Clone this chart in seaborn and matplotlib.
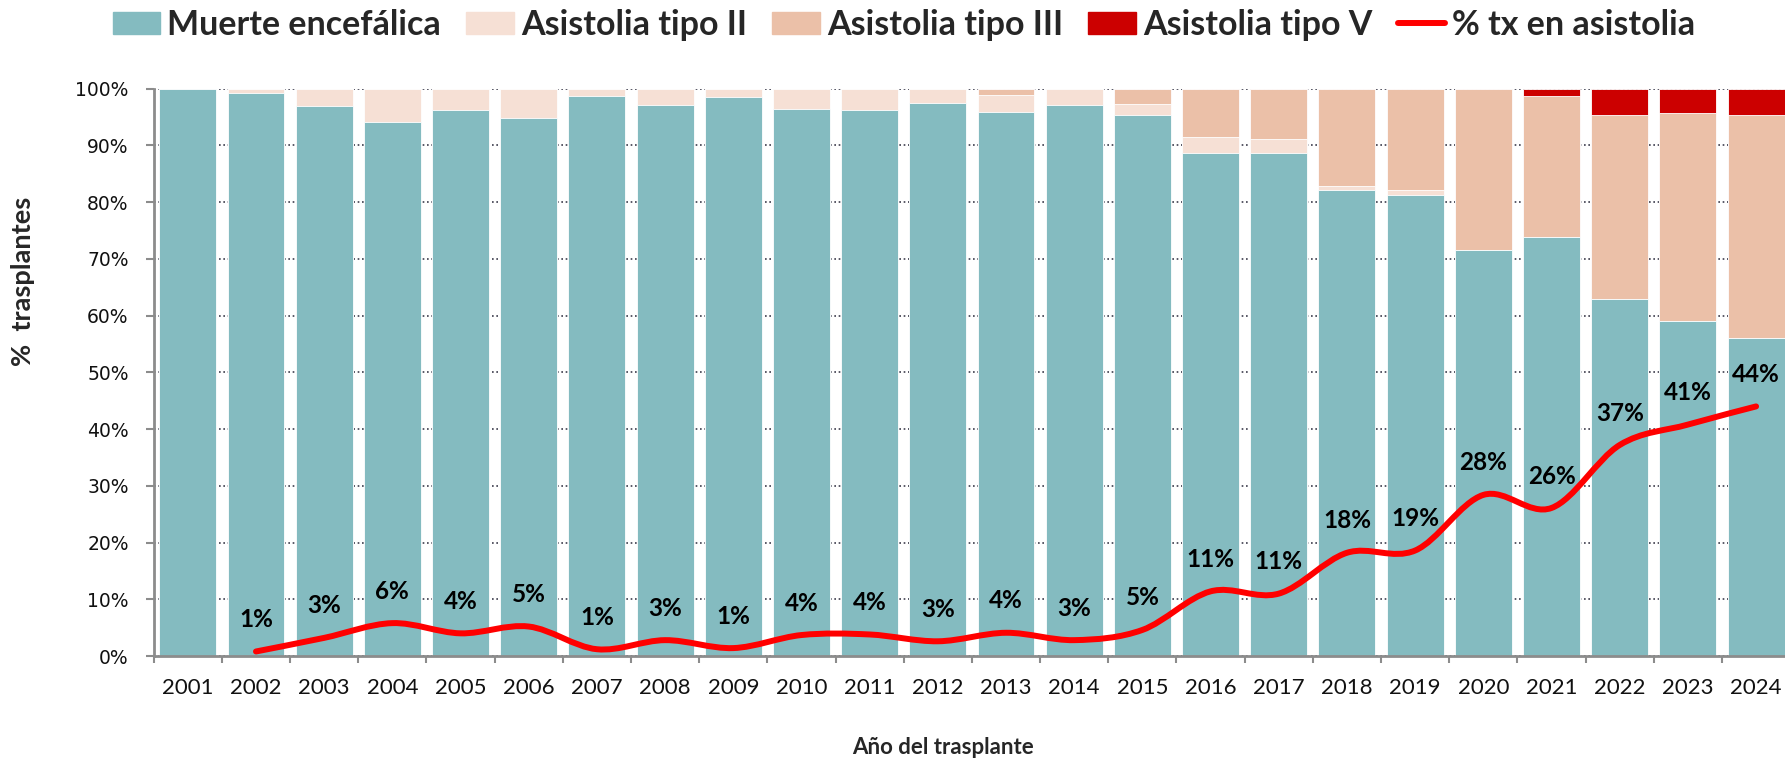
import numpy as np
import pandas as pd
import matplotlib.pyplot as plt
from matplotlib.patches import Patch, PathPatch
from matplotlib.lines import Line2D
from matplotlib.path import Path
import seaborn as sns

years = [str(y) for y in range(2001, 2025)]

# % of transplants per donor type
muerte_encefalica = [100, 99.2, 96.9, 94.2, 96.2, 94.8, 98.8, 97.2, 98.5, 96.4, 96.2, 97.4,
                     95.9, 97.2, 95.4, 88.7, 88.6, 82.1, 81.3, 71.5, 73.8, 62.9, 59.0, 56.1]
asistolia_ii = [0, 0.8, 3.1, 5.8, 3.8, 5.2, 1.2, 2.8, 1.5, 3.6, 3.8, 2.6,
                3.0, 2.8, 1.9, 2.8, 2.6, 0.7, 0.8, 0, 0, 0, 0, 0]
asistolia_iii = [0, 0, 0, 0, 0, 0, 0, 0, 0, 0, 0, 0,
                 1.1, 0, 2.7, 8.5, 8.8, 17.2, 17.9, 28.5, 25.0, 32.5, 36.7, 39.3]
asistolia_v = [0, 0, 0, 0, 0, 0, 0, 0, 0, 0, 0, 0,
               0, 0, 0, 0, 0, 0, 0, 0, 1.2, 4.6, 4.3, 4.6]

# % tx en asistolia, 2002-2024
line_years = years[1:]
pct_asistolia = [0.8, 3.2, 5.8, 4.0, 5.2, 1.2, 2.8, 1.4, 3.7, 3.8, 2.6, 4.1,
                 2.8, 4.6, 11.4, 11.0, 18.2, 18.6, 28.4, 26.1, 37.2, 40.8, 44.0]

colors = {"me": "#84BBC0", "ii": "#F6E0D5", "iii": "#EBC0A8", "v": "#CC0000"}

df = pd.DataFrame({"year": years, "me": muerte_encefalica, "ii": asistolia_ii,
                   "iii": asistolia_iii, "v": asistolia_v})
df["c1"] = df["me"]
df["c2"] = df["c1"] + df["ii"]
df["c3"] = df["c2"] + df["iii"]
df["c4"] = df["c3"] + df["v"]

sns.set_style("white")
plt.rcParams["font.family"] = ["Lato", "DejaVu Sans"]

fig = plt.figure(figsize=(17.85, 7.63), dpi=100)
ax = fig.add_axes([0.0861, 0.1402, 0.9168, 0.7435])

# dotted gridlines behind the bars
ax.set_axisbelow(True)
ax.yaxis.grid(True, linestyle=(0, (1, 1.6)), color="#3c3c4c", linewidth=1.2)

# stacked bars: draw cumulative totals, largest first
for col, key in [("c4", "v"), ("c3", "iii"), ("c2", "ii"), ("c1", "me")]:
    sns.barplot(data=df, x="year", y=col, color=colors[key], width=0.835,
                saturation=1, edgecolor="white", linewidth=0.6, ax=ax, zorder=2)

# smoothed line (Bezier segments through the points, like the spreadsheet)
xs = np.array([years.index(y) for y in line_years], dtype=float)
ys = np.array(pct_asistolia)
verts = [(xs[0], ys[0])]
codes = [Path.MOVETO]
n = len(xs)
for i in range(n - 1):
    p0 = np.array([xs[max(i - 1, 0)], ys[max(i - 1, 0)]])
    p1 = np.array([xs[i], ys[i]])
    p2 = np.array([xs[i + 1], ys[i + 1]])
    p3 = np.array([xs[min(i + 2, n - 1)], ys[min(i + 2, n - 1)]])
    c1 = p1 + (p2 - p0) / 6
    c2 = p2 - (p3 - p1) / 6
    verts += [tuple(c1), tuple(c2), tuple(p2)]
    codes += [Path.CURVE4] * 3
ax.add_patch(PathPatch(Path(verts, codes), fill=False, edgecolor="#FF0000",
                       linewidth=4.3, capstyle="round", zorder=4))

for x, v in zip(xs, ys):
    ax.annotate(f"{v:.0f}%", (x, v), xytext=(0, 23), textcoords="offset points",
                ha="center", va="center", fontsize=17.5, fontweight="bold",
                color="black", zorder=5)

ax.set_xlim(-0.5, 23.5)
ax.set_ylim(0, 100)
ax.set_yticks(range(0, 101, 10))
ax.set_yticklabels([f"{v}%" for v in range(0, 101, 10)], family="DejaVu Sans",
                   fontsize=13.5, color="#111111")
ax.tick_params(axis="y", direction="out", length=6, width=1.5, color="#8c8c8c", pad=12, left=True)
ax.set_xticks(range(len(years)))
ax.set_xticklabels(years, fontsize=16, color="#111111")
ax.set_xticks(np.arange(-0.5, 24, 1), minor=True)
ax.tick_params(axis="x", which="major", length=0, pad=16)
ax.tick_params(axis="x", which="minor", direction="out", length=5, width=1.5,
               color="#8c8c8c", bottom=True)

for side in ["top", "right"]:
    ax.spines[side].set_visible(False)
for side in ["left", "bottom"]:
    ax.spines[side].set_color("#8c8c8c")
    ax.spines[side].set_linewidth(2)

ax.set_xlabel("")
ax.set_ylabel("")
fig.text(943 / 1785, 1 - 748 / 763, "Año del trasplante", ha="center", va="center",
         fontsize=16, fontweight="bold")
fig.text(23 / 1785, 1 - 281 / 763, "%  trasplantes", ha="center", va="center",
         rotation=90, fontsize=19.5, fontweight="bold")

handles = [Patch(color=colors["me"], label="Muerte encefálica"),
           Patch(color=colors["ii"], label="Asistolia tipo II"),
           Patch(color=colors["iii"], label="Asistolia tipo III"),
           Patch(color=colors["v"], label="Asistolia tipo V"),
           Line2D([], [], color="#FF0000", linewidth=4.3, solid_capstyle="round",
                  label="% tx en asistolia")]
fig.legend(handles=handles, loc="center", bbox_to_anchor=(904 / 1785, 1 - 25 / 763),
           ncol=5, frameon=False, prop={"family": "Lato", "weight": "bold", "size": 24.5},
           handlelength=1.4, handleheight=0.62, handletextpad=0.2, columnspacing=0.75)

fig.savefig("out.png", dpi=100)
